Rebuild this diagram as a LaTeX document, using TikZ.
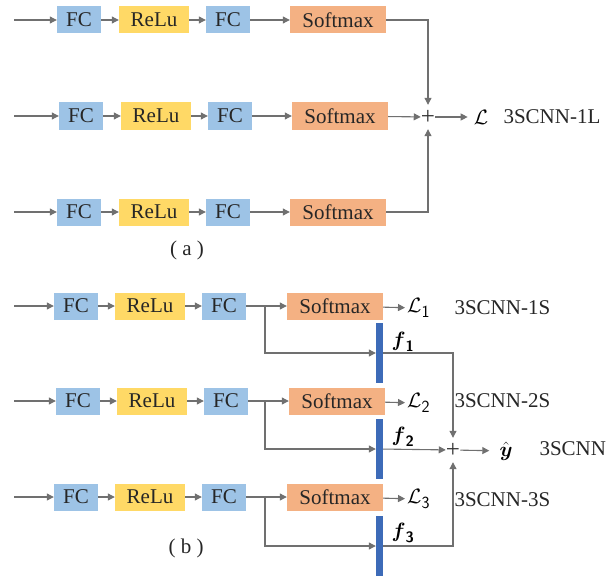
\documentclass[tikz,border=0pt]{standalone}
\usepackage{fontspec}
\setmainfont{Liberation Serif}
\usepackage{amsmath}
\usetikzlibrary{arrows.meta}

\definecolor{fcblue}{HTML}{9DC3E6}
\definecolor{reluyellow}{HTML}{FFD966}
\definecolor{softorange}{HTML}{F4B183}
\definecolor{featblue}{HTML}{3D6BB8}
\definecolor{linegray}{HTML}{707070}

% big upright subscripts
\newcommand{\bigsub}[1]{\text{\sffamily\fontsize{17}{17}\selectfont #1}}
\newcommand{\boldsub}[1]{\text{\sffamily\bfseries\fontsize{15}{15}\selectfont #1}}

\begin{document}
\begin{tikzpicture}[x=1pt, y=-1pt,
    fc/.style={fill=fcblue, minimum width=44pt, minimum height=27pt, inner sep=0pt, text=black!85, font=\fontsize{21}{23}\selectfont},
    relu/.style={fc, fill=reluyellow, minimum width=70pt},
    soft/.style={fc, fill=softorange, minimum width=96pt},
    feat/.style={fill=featblue, minimum width=7pt, minimum height=60pt, inner sep=0pt},
    arr/.style={-{Triangle[length=7pt,width=7pt]}, linegray, line width=1.1pt},
    plus/.style={minimum width=14pt, minimum height=24pt, inner sep=0pt, text=black!80, font=\fontsize{25}{25}\selectfont},
    lbl/.style={anchor=west, text=black!85, font=\fontsize{21}{23}\selectfont},
    caption/.style={text=black!85, font=\fontsize{21}{23}\selectfont}
]
\useasboundingbox (0,0) rectangle (615,575);

% (a): three branches summed into one loss
\foreach \r/\y/\dx in {1/20/0, 2/116/2, 3/212/0}{
    \coordinate (a\r-in) at (14,\y);
    \node[fc] (a\r-fc1) at (79+\dx,\y) {FC};
    \node[relu] (a\r-relu) at (154+\dx,\y) {ReLu};
    \node[fc] (a\r-fc2) at (228+\dx,\y) {FC};
    \node[soft] (a\r-soft) at (338+\dx,\y) {Softmax};
    \draw[arr] (a\r-in) -- (a\r-fc1);
    \draw[arr] (a\r-fc1) -- (a\r-relu);
    \draw[arr] (a\r-relu) -- (a\r-fc2);
    \draw[arr] (a\r-fc2) -- (a\r-soft);
}

\node[plus] (asum) at (428,117) {+};
\node[inner sep=0pt, font=\fontsize{21}{23}\selectfont] (aloss) at (481,117) {$\mathcal{L}$};
\node[lbl] at (500,117) {3SCNN-1L};

\draw[arr] (a1-soft.east) -| (asum);
\draw[arr] (a2-soft) -- (asum);
\draw[arr] (a3-soft.east) -| (asum);
\draw[arr, shorten >=6pt] (asum) -- (aloss);

\node[caption] (acap) at (187,250) {( a )};

% (b): per-branch losses plus feature fusion
\foreach \r/\y/\dx/\ly in {1/306/0/308, 2/401/2/401, 3/497/0/500}{
    \coordinate (b\r-in) at (14,\y);
    \node[fc] (b\r-fc1) at (76+\dx,\y) {FC};
    \node[relu] (b\r-relu) at (150+\dx,\y) {ReLu};
    \node[fc] (b\r-fc2) at (224+\dx,\y) {FC};
    \node[soft] (b\r-soft) at (335+\dx,\y) {Softmax};
    \node[anchor=west, inner sep=2pt, font=\fontsize{21}{23}\selectfont] (b\r-loss) at (405,\y+2) {$\mathcal{L}_{\bigsub{\r}}$};
    \node[lbl] at (451,\ly) {3SCNN-\r S};
    \draw[arr] (b\r-in) -- (b\r-fc1);
    \draw[arr] (b\r-fc1) -- (b\r-relu);
    \draw[arr] (b\r-relu) -- (b\r-fc2);
    \draw[arr] (b\r-fc2) -- (b\r-soft);
    \draw[arr] (b\r-soft) -- (b\r-loss);
}

\node[feat] (b1-bar) at (379.5,353) {};
\node[feat] (b2-bar) at (379.5,449) {};
\node[feat] (b3-bar) at (379.5,546) {};
\node[font=\fontsize{22}{23}\selectfont] at (403,342) {$\boldsymbol{f}_{\boldsub{1}}$};
\node[font=\fontsize{22}{23}\selectfont] at (403,437) {$\boldsymbol{f}_{\boldsub{2}}$};
\node[font=\fontsize{22}{23}\selectfont] at (403,533) {$\boldsymbol{f}_{\boldsub{3}}$};

\foreach \r/\y in {1/306, 2/401, 3/497}{
    \coordinate (b\r-br) at (265,\y);
    \draw[arr] (b\r-br) |- (b\r-bar.west);
}

\node[plus] (bsum) at (453,450) {+};
\node[inner sep=0pt, font=\fontsize{22}{23}\selectfont] (yhat) at (506,451) {$\hat{\boldsymbol{y}}$};
\node[lbl] at (536,449) {3SCNN};

\draw[arr] (b1-bar.east) -| (bsum);
\draw[arr] (b2-bar) -- (bsum);
\draw[arr] (b3-bar.east) -| (bsum);
\draw[arr, shorten >=10pt] (bsum) -- (yhat);

\node[caption] (bcap) at (186,548) {( b )};

\end{tikzpicture}
\end{document}
